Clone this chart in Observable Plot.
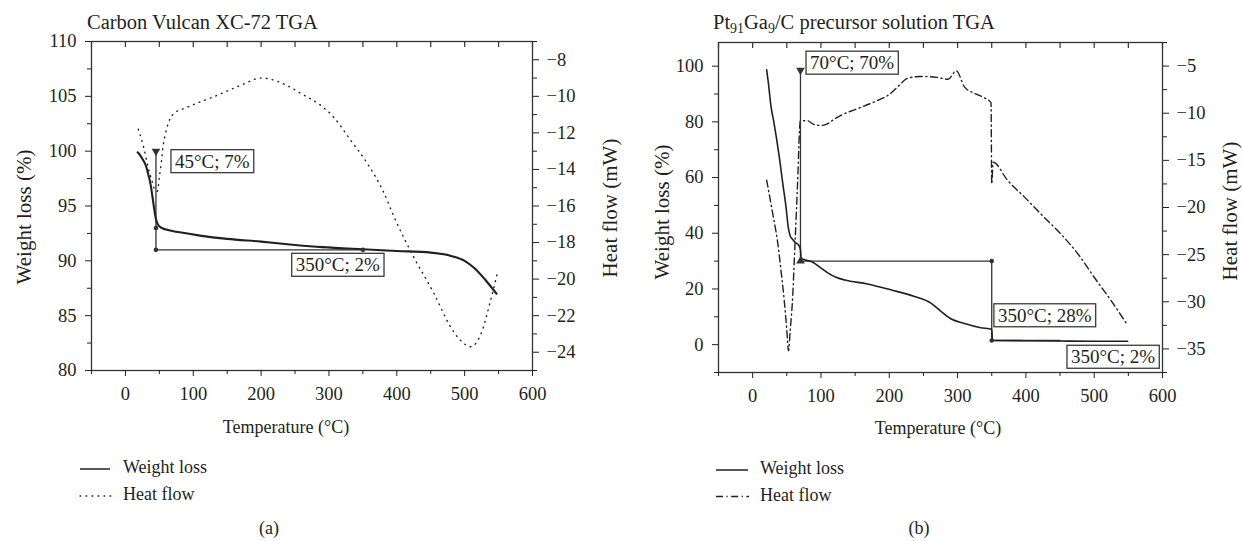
<!DOCTYPE html>
<html><head><meta charset="utf-8">
<script src="https://cdn.jsdelivr.net/npm/d3@7"></script>
<script src="https://cdn.jsdelivr.net/npm/@observablehq/plot@0.6"></script>
<style>
body{margin:0;background:#fff;}
#root{position:relative;width:1242px;height:541px;overflow:hidden;font-family:"Liberation Serif","Times New Roman",serif;color:#231f20;background:#fff;}
.t{position:absolute;white-space:nowrap;line-height:1;transform:translateY(-50%);font-size:18px;}
.c{position:absolute;white-space:nowrap;line-height:1;transform:translate(-50%,-50%);font-size:18px;}
.yl{position:absolute;white-space:nowrap;line-height:1;transform:translate(-50%,-50%) rotate(-90deg);font-size:21px;}
sub{font-size:0.68em;vertical-align:baseline;position:relative;top:0.32em;}
</style></head><body><div id="root"></div>
<script>
// ---------- Panel (a): Carbon Vulcan XC-72 ----------
const tempWeightA = [18,22,26,30,34,37,40,42,44,46,48,52,60,80,110,150,200,250,290,350,400,450,480,500,515,530,547];
const weightA     = [99.9,99.6,99.2,98.7,97.8,97.0,95.8,94.9,94.1,93.6,93.3,93.05,92.85,92.6,92.3,92.0,91.75,91.45,91.25,91.05,90.9,90.75,90.45,90.0,89.3,88.3,87.0];
const tempHeatA = [19,27,33,39,44,47,50,52,56,59,66,71,91,135,170,200,243,258,288,307,330,357,380,396,425,455,479,495,509,524,538,548];
const heatA     = [-11.8,-12.8,-13.8,-14.6,-15.15,-15.2,-14.4,-13.9,-12.6,-12.05,-11.2,-10.96,-10.6,-9.95,-9.4,-9.0,-9.5,-9.83,-10.5,-11.14,-12.3,-13.7,-15.2,-16.6,-18.8,-20.8,-22.6,-23.4,-23.7,-23.0,-21.2,-19.7];
const guideA_T = [45,45,350];
const guideA_W = [100,91,91];
const markA_T = [45,45,45,350];
const markA_W = [100,93,91,91];
const markA_S = ["down","dot","dot","dot"];
const labelA_text = ["45°C; 7%","350°C; 2%"];
const labelA_T = [73,251];
const labelA_W = [99.05,89.6];
const xTicksMajor = [0,100,200,300,400,500,600];
const xTicksMinor = [-50,50,150,250,350,450,550];
const yTicksA = [80,85,90,95,100,105,110];
const yMinorA = [82.5,87.5,92.5,97.5,102.5,107.5];
const hTicksA = [-24,-22,-20,-18,-16,-14,-12,-10,-8];
const hMinorA = [-25,-23,-21,-19,-17,-15,-13,-11,-9,-7];

// ---------- Panel (b): Pt91Ga9/C precursor solution ----------
const tempWeightB = [20.5,23,27,31,35,39,44,48.8,52,55,58.6,63,68,70,71,75,88,100,110,122,135,168,202,237,261,276,290,310,334,350,351,400,450,500,549];
const weightB     = [98.7,94,85.3,80,74,67.4,58,49.5,42.4,39,37.8,36.6,35.5,34,31,30.6,29.6,27.5,25.8,24.2,23.2,21.8,19.7,17.3,14.9,11.9,9.3,7.6,6.1,5.5,1.6,1.4,1.3,1.2,1.2];
const tempHeatB = [20.5,29,36.6,42,46.3,50,52.5,55,58.6,61,64,66.5,68.3,70,80,90,100,110,120,130,154,178,202,215,227,246,270,286,298,310,325,340,349,350,352,373,398,422,451,476,500,525,549];
const heatB     = [-17.1,-20.5,-23.7,-27,-29.9,-33,-35.2,-33,-29.5,-25.5,-20.5,-16,-12.2,-10.8,-10.8,-11.2,-11.3,-11.1,-10.6,-10.2,-9.5,-8.8,-7.9,-7.0,-6.3,-6.1,-6.2,-6.4,-5.5,-7.2,-7.9,-8.4,-8.9,-17.5,-15.2,-17.1,-18.9,-20.7,-22.8,-24.9,-27.4,-29.9,-32.5];
const guideB_T = [70,70,350,350,450];
const guideB_W = [98.5,30,30,1.5,1.5];
const markB_T = [70,70,350,350];
const markB_W = [98.5,30,30,1.5];
const markB_S = ["down","up","dot","dot"];
const labelB_text = ["70°C; 70%","350°C; 28%","350°C; 2%"];
const labelB_T = [84,359,466];
const labelB_W = [101.1,10.4,-4.5];
const yTicksB = [0,20,40,60,80,100];
const yMinorB = [-10,10,30,50,70,90];
const hTicksB = [-35,-30,-25,-20,-15,-10,-5];
const hMinorB = [-37.5,-32.5,-27.5,-22.5,-17.5,-12.5,-7.5,-2.5];

// ---------- helpers ----------
const INK = "#231f20";
const fmt = d => d < 0 ? "\u2212" + Math.abs(d) : String(d);
const zip2 = (a, b, ka, kb) => a.map((v, i) => ({[ka]: v, [kb]: b[i]}));
const style = {fontFamily: '"Liberation Serif","Times New Roman",serif', fontSize: "18.5px", color: INK, background: "transparent", overflow: "visible"};
const root = document.getElementById("root");

function place(svg, left) {
  svg.style.position = "absolute";
  svg.style.left = left + "px";
  svg.style.top = "0px";
  root.appendChild(svg);
}

function boxLabels(svg) {
  svg.querySelectorAll("text").forEach(t => {
    if (!t.textContent.includes("°C;")) return;
    const b = t.getBBox();
    const r = document.createElementNS("http://www.w3.org/2000/svg", "rect");
    r.setAttribute("x", b.x - 4);
    r.setAttribute("y", b.y - 1);
    r.setAttribute("width", b.width + 8);
    r.setAttribute("height", b.height + 2);
    r.setAttribute("fill", "white");
    r.setAttribute("stroke", "#3a3a3a");
    r.setAttribute("stroke-width", "1.3");
    const tr = t.getAttribute("transform");
    if (tr) r.setAttribute("transform", tr);
    t.parentNode.insertBefore(r, t);
  });
}

function panel({left, width, height, m, yDomain, hDomain, weight, heat, heatDash, weightWidth, guides, marks, labels,
                yTicks, yMinor, hTicks, hMinor}) {
  const plotH = height - m.top - m.bottom;
  // heat flow layer (right axis)
  const heatPlot = Plot.plot({
    width, height, marginLeft: m.left, marginRight: m.right, marginTop: m.top, marginBottom: m.bottom,
    style,
    x: {domain: [-50, 600], axis: null},
    y: {domain: hDomain},
    marks: [
      Plot.axisY({anchor: "right", ticks: hTicks, tickSize: 6, tickPadding: 8, tickFormat: fmt, label: null}),
      Plot.axisY({anchor: "right", ticks: hMinor, tickSize: 4, tickFormat: () => "", label: null}),
      Plot.line(heat, {x: "T", y: "H", stroke: INK, strokeWidth: 1.4, strokeDasharray: heatDash, strokeLinecap: "round", curve: "monotone-x"})
    ]
  });
  place(heatPlot, left);
  // weight layer (left axis)
  const wPlot = Plot.plot({
    width, height, marginLeft: m.left, marginRight: m.right, marginTop: m.top, marginBottom: m.bottom,
    style,
    x: {domain: [-50, 600]},
    y: {domain: yDomain},
    marks: [
      Plot.frame({stroke: "#333", strokeWidth: 1.3}),
      Plot.axisX({anchor: "bottom", ticks: xTicksMajor, tickSize: 6, tickPadding: 10, tickFormat: fmt, label: null}),
      Plot.axisX({anchor: "bottom", ticks: xTicksMinor, tickSize: 4, tickFormat: () => "", label: null}),
      Plot.tickX(xTicksMajor.concat(xTicksMinor), {x: d => d, stroke: "#333", strokeWidth: 1.2, insetBottom: plotH - 6}),
      Plot.axisY({anchor: "left", ticks: yTicks, tickSize: 6, tickPadding: 9, tickFormat: fmt, label: null}),
      Plot.axisY({anchor: "left", ticks: yMinor, tickSize: 4, tickFormat: () => "", label: null}),
      Plot.line(guides, {x: "T", y: "W", stroke: "#333", strokeWidth: 1.3}),
      Plot.line(weight, {x: "T", y: "W", stroke: INK, strokeWidth: weightWidth, curve: "monotone-x"}),
      Plot.dot(marks.filter(d => d.s === "dot"), {x: "T", y: "W", r: 2.3, fill: "#333"}),
      Plot.dot(marks.filter(d => d.s !== "dot"), {x: "T", y: "W", r: 3.2, fill: "#333", symbol: "triangle", rotate: d => d.s === "down" ? 180 : 0}),
      Plot.text(labels, {x: "T", y: "W", text: "text", textAnchor: "start", fontSize: 19, fill: INK})
    ]
  });
  place(wPlot, left);
  boxLabels(wPlot);
}

const toRows = (T, W, S) => T.map((t, i) => ({T: t, W: W[i], s: S ? S[i] : undefined}));
const toLabels = (txt, T, W) => txt.map((s, i) => ({text: s, T: T[i], W: W[i]}));

panel({
  left: 0, width: 620, height: 450, m: {left: 91, right: 88, top: 41, bottom: 80},
  yDomain: [80, 110], hDomain: [-25, -7],
  weight: zip2(tempWeightA, weightA, "T", "W"),
  heat: zip2(tempHeatA, heatA, "T", "H"),
  heatDash: "0.8,5.2", weightWidth: 2.1,
  guides: toRows(guideA_T, guideA_W),
  marks: toRows(markA_T, markA_W, markA_S),
  labels: toLabels(labelA_text, labelA_T, labelA_W),
  yTicks: yTicksA, yMinor: yMinorA, hTicks: hTicksA, hMinor: hMinorA
});

panel({
  left: 640, width: 602, height: 450, m: {left: 78, right: 80, top: 42, bottom: 78},
  yDomain: [-10, 108.5], hDomain: [-37.5, -2.5],
  weight: zip2(tempWeightB, weightB, "T", "W"),
  heat: zip2(tempHeatB, heatB, "T", "H"),
  heatDash: "7,3.5,1.2,3.5", weightWidth: 1.6,
  guides: toRows(guideB_T, guideB_W),
  marks: toRows(markB_T, markB_W, markB_S),
  labels: toLabels(labelB_text, labelB_T, labelB_W),
  yTicks: yTicksB, yMinor: yMinorB, hTicks: hTicksB, hMinor: hMinorB
});

// ---------- text: titles, axis titles, legends, captions ----------
const html = `
<div class="t" style="left:87px;top:22px;font-size:20.5px;">Carbon Vulcan XC-72 TGA</div>
<div class="t" style="left:713px;top:22px;font-size:20.5px;">Pt<sub>91</sub>Ga<sub>9</sub>/C precursor solution TGA</div>
<div class="yl" style="left:24px;top:217px;">Weight loss (%)</div>
<div class="yl" style="left:610px;top:208px;">Heat flow (mW)</div>
<div class="yl" style="left:662px;top:212px;">Weight loss (%)</div>
<div class="yl" style="left:1230px;top:211px;">Heat flow (mW)</div>
<div class="c" style="left:286px;top:427px;">Temperature (°C)</div>
<div class="c" style="left:938px;top:428px;">Temperature (°C)</div>
<div class="t" style="left:123px;top:467px;">Weight loss</div>
<div class="t" style="left:123px;top:494px;">Heat flow</div>
<div class="t" style="left:760px;top:468px;">Weight loss</div>
<div class="t" style="left:760px;top:495px;">Heat flow</div>
<div class="c" style="left:269px;top:528px;">(a)</div>
<div class="c" style="left:919px;top:528px;">(b)</div>
<svg width="1242" height="541" style="position:absolute;left:0;top:0;pointer-events:none;">
  <line x1="80" x2="110" y1="469" y2="469" stroke="${INK}" stroke-width="1.5"/>
  <line x1="80" x2="111" y1="496" y2="496" stroke="${INK}" stroke-width="1.3" stroke-dasharray="0.8,5.2" stroke-linecap="round"/>
  <line x1="716" x2="748" y1="470" y2="470" stroke="${INK}" stroke-width="1.5"/>
  <line x1="716" x2="749" y1="496.5" y2="496.5" stroke="${INK}" stroke-width="1.3" stroke-dasharray="7,3.5,1.2,3.5"/>
</svg>`;
root.insertAdjacentHTML("beforeend", html);
</script>
</body></html>
